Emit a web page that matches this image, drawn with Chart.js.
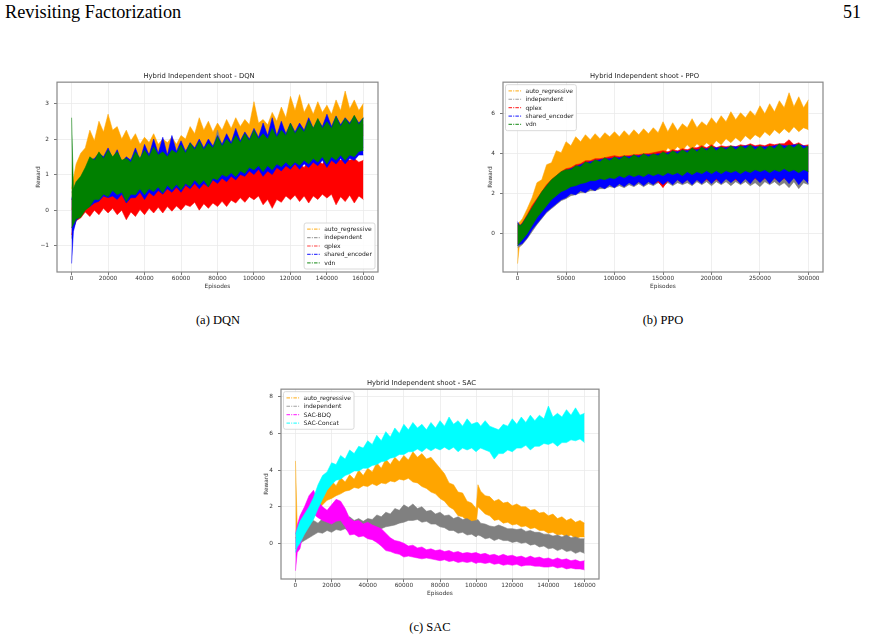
<!DOCTYPE html>
<html>
<head>
<meta charset="utf-8">
<script src="https://cdn.jsdelivr.net/npm/chart.js@4.4.0/dist/chart.umd.min.js"></script>
<style>
  html, body { margin: 0; padding: 0; background: #fff; }
  body { width: 869px; height: 643px; position: relative; overflow: hidden; font-family: "Liberation Serif", serif; color: #000; }
  .txt { position: absolute; white-space: nowrap; line-height: 1; }
  .cap { font-size: 12.5px; transform: translateX(-50%); }
  .plot { position: absolute; }
</style>
</head>
<body>
<div class="txt" style="left:5px; top:3px; font-size:18.3px;">Revisiting Factorization</div>
<div class="txt" style="right:8px; top:3px; font-size:18px;">51</div>

<div class="plot" style="left:20px; top:66px;"><canvas id="dqn" width="370" height="228"></canvas></div>
<div class="plot" style="left:466px; top:66px;"><canvas id="ppo" width="366" height="228"></canvas></div>
<div class="plot" style="left:244px; top:373px;"><canvas id="sac" width="366" height="228"></canvas></div>

<div class="txt cap" style="left:218px; top:314px;">(a) DQN</div>
<div class="txt cap" style="left:663px; top:314px;">(b) PPO</div>
<div class="txt cap" style="left:430px; top:621px;">(c) SAC</div>

<script>
// ---- DQN: low / high envelope of each noisy reward curve ----
const dqnEpisodes = [0, 1000, 2500, 5000, 7500,
    10000, 12500, 15000, 17500, 20000, 22500, 25000, 27500, 30000, 32500, 35000, 37500,
    40000, 42500, 45000, 47500, 50000, 52500, 55000, 57500, 60000, 62500, 65000, 67500,
    70000, 72500, 75000, 77500, 80000, 82500, 85000, 87500, 90000, 92500, 95000, 97500,
    100000, 102500, 105000, 107500, 110000, 112500, 115000, 117500, 120000, 122500, 125000, 127500,
    130000, 132500, 135000, 137500, 140000, 142500, 145000, 147500, 150000, 152500, 155000, 157500, 160000];
const dqnAutoHi = [0.6, 0.9, 1.3, 1.6, 1.75, 2.25, 1.95, 2.5, 2.2, 2.7, 2.25, 2.35, 2.0, 2.25, 1.95, 2.15, 1.85, 2.05, 1.9, 2.15, 1.85, 2.0, 1.9, 2.05, 1.85, 2.1, 2.0, 2.35, 2.15, 2.6, 2.25, 2.5, 2.2, 2.45, 2.25, 2.55, 2.3, 2.6, 2.35, 2.55, 2.4, 3.05, 2.45, 2.55, 2.4, 2.75, 2.5, 2.9, 2.6, 3.2, 2.8, 3.25, 2.75, 3.0, 2.7, 3.05, 2.75, 2.95, 2.7, 3.1, 2.8, 3.35, 2.85, 3.1, 2.8, 3.0];
const dqnAutoLo = [0.0, 0.2, 0.5, 0.8, 1.0, 1.2, 1.25, 1.3, 1.35, 1.4, 1.4, 1.35, 1.3, 1.2, 1.25, 1.3, 1.3, 1.35, 1.4, 1.4, 1.4, 1.35, 1.4, 1.4, 1.45, 1.45, 1.5, 1.5, 1.55, 1.55, 1.55, 1.55, 1.6, 1.6, 1.6, 1.65, 1.7, 1.7, 1.75, 1.75, 1.8, 1.8, 1.8, 1.8, 1.85, 1.85, 1.9, 1.9, 1.95, 1.95, 1.95, 1.95, 2.0, 2.0, 2.0, 2.0, 2.05, 2.05, 2.05, 2.05, 2.1, 2.1, 2.1, 2.1, 2.1, 2.1];
const dqnIndepHi = [0.5, 0.6, 0.8, 0.9, 1.1, 1.35, 1.4, 1.45, 1.5, 1.5, 1.5, 1.45, 1.4, 1.35, 1.45, 1.5, 1.5, 1.55, 1.6, 1.6, 1.55, 1.5, 1.55, 1.6, 1.6, 1.65, 1.7, 1.7, 1.75, 1.75, 1.75, 1.7, 1.7, 2.25, 1.8, 1.8, 1.85, 1.9, 1.95, 1.95, 2.0, 2.05, 2.0, 1.95, 2.0, 2.1, 2.05, 2.05, 2.1, 2.2, 2.2, 2.15, 2.2, 2.3, 2.3, 2.35, 2.3, 2.3, 2.35, 2.4, 2.4, 2.4, 2.4, 2.45, 2.4, 2.4];
const dqnIndepLo = [-0.8, -0.5, -0.3, -0.1, 0.05, 0.15, 0.25, 0.35, 0.4, 0.45, 0.45, 0.5, 0.4, 0.35, 0.4, 0.5, 0.5, 0.5, 0.55, 0.6, 0.55, 0.55, 0.6, 0.65, 0.65, 0.65, 0.7, 0.75, 0.75, 0.8, 0.75, 0.75, 0.8, 0.9, 0.95, 1.0, 1.0, 1.0, 1.05, 1.1, 1.1, 1.15, 1.15, 1.15, 1.2, 1.2, 1.25, 1.3, 1.3, 1.3, 1.3, 1.35, 1.35, 1.4, 1.4, 1.45, 1.45, 1.45, 1.45, 1.5, 1.5, 1.5, 1.55, 1.6, 1.65, 1.75];
const dqnQplexHi = [0.3, 0.3, 0.4, 0.5, 0.6, 0.55, 0.7, 0.6, 0.75, 0.75, 0.7, 0.8, 0.65, 0.7, 0.6, 0.75, 0.8, 0.8, 0.75, 0.85, 0.7, 0.8, 0.9, 0.95, 0.85, 0.95, 0.9, 1.0, 0.85, 0.95, 1.0, 1.05, 1.0, 1.1, 1.0, 1.15, 1.05, 1.2, 1.1, 1.2, 1.15, 1.3, 1.2, 1.25, 1.15, 1.3, 1.25, 1.35, 1.45, 1.35, 1.3, 1.3, 1.2, 1.4, 1.35, 1.4, 1.3, 1.45, 1.5, 1.5, 1.4, 1.45, 1.4, 1.45, 1.35, 1.4];
const dqnQplexLo = [-0.7, -0.5, -0.3, -0.22, -0.05, -0.18, 0.0, -0.13, 0.05, -0.08, 0.05, -0.13, 0.0, -0.27, -0.05, -0.18, 0.02, -0.13, 0.05, -0.08, 0.08, -0.08, 0.1, -0.03, 0.12, 0.0, 0.15, 0.1, 0.22, 0.0, 0.18, 0.05, 0.2, 0.1, 0.25, 0.1, 0.28, 0.2, 0.35, 0.22, 0.38, 0.29, 0.4, 0.15, 0.3, 0.05, 0.3, 0.22, 0.4, 0.29, 0.42, 0.24, 0.4, 0.2, 0.4, 0.3, 0.45, 0.34, 0.45, 0.15, 0.38, 0.24, 0.42, 0.2, 0.4, 0.3];
const dqnSharedHi = [0.3, 0.5, 0.7, 0.9, 1.15, 1.4, 1.45, 1.6, 1.5, 1.75, 1.45, 1.7, 1.35, 1.5, 1.4, 1.75, 1.4, 1.85, 1.55, 2.0, 1.6, 2.05, 1.55, 2.1, 1.65, 1.95, 1.65, 1.9, 1.75, 2.0, 1.75, 2.0, 1.8, 2.1, 1.85, 2.15, 1.9, 2.3, 1.95, 2.2, 2.0, 2.3, 2.05, 2.45, 2.1, 2.6, 2.1, 2.5, 2.15, 2.45, 2.2, 2.45, 2.25, 2.6, 2.3, 2.55, 2.35, 2.7, 2.35, 2.65, 2.4, 2.6, 2.45, 2.65, 2.45, 2.6];
const dqnSharedLo = [-1.5, -0.6, -0.3, -0.15, 0.05, 0.1, 0.2, 0.25, 0.4, 0.35, 0.4, 0.3, 0.45, 0.2, 0.35, 0.35, 0.5, 0.3, 0.5, 0.4, 0.55, 0.45, 0.6, 0.5, 0.65, 0.5, 0.7, 0.6, 0.75, 0.6, 0.75, 0.65, 0.85, 0.75, 0.9, 0.8, 0.95, 0.85, 1.0, 0.95, 1.1, 1.0, 1.15, 0.95, 1.1, 1.0, 1.2, 1.1, 1.25, 1.15, 1.3, 1.15, 1.3, 1.2, 1.35, 1.25, 1.4, 1.2, 1.4, 1.3, 1.45, 1.3, 1.45, 1.4, 1.55, 1.55];
const dqnVdnHi = [2.6, 0.6, 0.8, 0.95, 1.2, 1.5, 1.4, 1.64, 1.45, 1.69, 1.5, 1.64, 1.4, 1.46, 1.35, 1.64, 1.45, 1.69, 1.5, 1.78, 1.55, 1.64, 1.5, 1.69, 1.6, 1.83, 1.6, 1.88, 1.7, 1.93, 1.7, 1.88, 1.75, 2.07, 1.8, 2.0, 1.85, 2.1, 1.9, 2.15, 1.95, 2.25, 2.0, 2.15, 2.0, 2.3, 2.05, 2.25, 2.1, 2.44, 2.15, 2.35, 2.2, 2.53, 2.3, 2.58, 2.3, 2.49, 2.3, 2.63, 2.35, 2.58, 2.4, 2.67, 2.4, 2.6];
const dqnVdnLo = [-0.5, -0.4, -0.25, -0.2, 0.0, 0.1, 0.3, 0.29, 0.45, 0.38, 0.55, 0.43, 0.5, 0.24, 0.45, 0.43, 0.6, 0.43, 0.6, 0.52, 0.65, 0.48, 0.7, 0.57, 0.72, 0.57, 0.75, 0.66, 0.85, 0.71, 0.85, 0.66, 0.9, 0.85, 1.0, 0.94, 1.05, 0.94, 1.1, 1.03, 1.2, 1.13, 1.25, 1.08, 1.25, 1.13, 1.3, 1.22, 1.35, 1.22, 1.35, 1.26, 1.4, 1.3, 1.45, 1.35, 1.5, 1.3, 1.5, 1.4, 1.55, 1.4, 1.55, 1.5, 1.65, 1.68];
const dqnXTicks = [0, 20000, 40000, 60000, 80000, 100000, 120000, 140000, 160000];
const dqnYTicks = [-1, 0, 1, 2, 3];

// ---- PPO ----
const ppoEpisodes = [0, 2500,
    5000, 10000, 15000, 20000, 25000, 30000, 35000, 40000, 45000, 50000,
    55000, 60000, 65000, 70000, 75000, 80000, 85000, 90000, 95000, 100000,
    105000, 110000, 115000, 120000, 125000, 130000, 135000, 140000, 145000, 150000,
    155000, 160000, 165000, 170000, 175000, 180000, 185000, 190000, 195000, 200000,
    205000, 210000, 215000, 220000, 225000, 230000, 235000, 240000, 245000, 250000,
    255000, 260000, 265000, 270000, 275000, 280000, 285000, 290000, 295000, 300000];
const ppoAutoHi = [0.5, 0.6, 0.75, 1.25, 1.8, 2.55, 2.7, 3.45, 3.55, 4.15, 4.05, 4.6, 4.4, 4.85, 4.6, 4.95, 4.7, 5.0, 4.75, 5.05, 4.85, 5.1, 4.85, 5.15, 4.9, 5.2, 4.95, 5.25, 5.0, 5.3, 5.05, 5.6, 5.1, 5.55, 5.15, 5.5, 5.3, 5.75, 5.3, 5.6, 5.4, 5.8, 5.5, 5.9, 5.6, 6.1, 5.7, 6.05, 5.8, 6.15, 5.9, 6.4, 6.0, 6.5, 6.1, 6.65, 6.3, 7.05, 6.35, 6.85, 6.3, 6.7];
const ppoAutoLo = [-1.5, -0.3, 0.0, 0.5, 1.0, 1.5, 1.9, 2.2, 2.5, 2.8, 3.0, 3.1, 3.05, 3.15, 3.25, 3.35, 3.4, 3.45, 3.5, 3.55, 3.55, 3.6, 3.65, 3.65, 3.7, 3.7, 3.75, 3.75, 3.8, 3.8, 3.85, 3.9, 4.3, 4.1, 4.35, 4.15, 4.45, 4.2, 4.5, 4.3, 4.55, 4.35, 4.65, 4.45, 4.75, 4.55, 4.8, 4.6, 4.9, 4.7, 4.95, 4.8, 5.1, 4.9, 5.2, 5.0, 5.25, 5.05, 5.35, 5.1, 5.3, 5.2];
const ppoIndepHi = [0.4, 0.35, 0.45, 0.85, 1.25, 1.6, 2.0, 2.3, 2.6, 2.8, 3.0, 3.1, 3.2, 3.3, 3.4, 3.5, 3.55, 3.6, 3.65, 3.7, 3.7, 3.75, 3.75, 3.8, 3.8, 3.85, 3.85, 3.9, 3.9, 3.9, 3.95, 4.0, 4.0, 4.05, 4.05, 4.1, 4.1, 4.15, 4.15, 4.2, 4.2, 4.25, 4.2, 4.2, 4.25, 4.3, 4.3, 4.3, 4.3, 4.3, 4.3, 4.3, 4.3, 4.35, 4.35, 4.4, 4.35, 4.35, 4.4, 4.4, 4.35, 4.3];
const ppoIndepLo = [-0.7, -0.65, -0.55, -0.25, 0.1, 0.45, 0.75, 1.05, 1.25, 1.45, 1.65, 1.75, 1.9, 1.95, 2.05, 2.05, 2.15, 2.15, 2.25, 2.25, 2.35, 2.3, 2.4, 2.3, 2.45, 2.35, 2.5, 2.35, 2.5, 2.4, 2.55, 2.4, 2.55, 2.4, 2.55, 2.45, 2.55, 2.4, 2.6, 2.45, 2.6, 2.4, 2.6, 2.45, 2.6, 2.4, 2.6, 2.45, 2.6, 2.4, 2.55, 2.35, 2.6, 2.45, 2.6, 2.4, 2.55, 2.3, 2.6, 2.25, 2.55, 2.45];
const ppoQplexHi = [0.5, 0.4, 0.55, 0.95, 1.4, 1.75, 2.1, 2.45, 2.7, 2.9, 3.1, 3.25, 3.3, 3.45, 3.5, 3.65, 3.65, 3.75, 3.75, 3.8, 3.85, 3.9, 3.85, 3.9, 3.9, 3.95, 3.95, 4.0, 4.0, 4.05, 4.1, 4.15, 4.1, 4.2, 4.15, 4.25, 4.2, 4.3, 4.3, 4.4, 4.3, 4.45, 4.3, 4.4, 4.35, 4.4, 4.35, 4.45, 4.4, 4.5, 4.4, 4.45, 4.4, 4.5, 4.45, 4.5, 4.5, 4.7, 4.45, 4.55, 4.4, 4.45];
const ppoQplexLo = [-0.5, -0.4, -0.3, 0.0, 0.35, 0.7, 1.0, 1.3, 1.55, 1.75, 1.95, 2.05, 2.15, 2.2, 2.3, 2.3, 2.4, 2.4, 2.5, 2.45, 2.55, 2.5, 2.6, 2.5, 2.6, 2.5, 2.6, 2.55, 2.65, 2.5, 2.6, 2.3, 2.65, 2.55, 2.7, 2.55, 2.7, 2.6, 2.7, 2.6, 2.7, 2.6, 2.7, 2.6, 2.75, 2.65, 2.7, 2.6, 2.75, 2.65, 2.75, 2.65, 2.75, 2.7, 2.75, 2.65, 2.75, 2.65, 2.8, 2.65, 2.75, 2.65];
const ppoSharedHi = [0.6, 0.4, 0.5, 0.85, 1.25, 1.65, 2.0, 2.35, 2.6, 2.85, 3.0, 3.15, 3.25, 3.35, 3.45, 3.55, 3.6, 3.65, 3.7, 3.75, 3.75, 3.8, 3.8, 3.85, 3.85, 3.9, 3.9, 3.95, 3.95, 3.95, 4.0, 4.0, 4.05, 4.1, 4.1, 4.15, 4.15, 4.2, 4.2, 4.25, 4.25, 4.3, 4.3, 4.3, 4.3, 4.35, 4.35, 4.35, 4.4, 4.4, 4.35, 4.35, 4.35, 4.35, 4.4, 4.45, 4.4, 4.4, 4.45, 4.45, 4.4, 4.35];
const ppoSharedLo = [-0.6, -0.55, -0.5, -0.2, 0.2, 0.5, 0.8, 1.1, 1.3, 1.5, 1.7, 1.8, 2.0, 1.95, 2.15, 2.05, 2.25, 2.15, 2.35, 2.25, 2.45, 2.3, 2.5, 2.35, 2.55, 2.4, 2.6, 2.4, 2.6, 2.45, 2.65, 2.45, 2.65, 2.45, 2.7, 2.5, 2.7, 2.45, 2.7, 2.5, 2.75, 2.5, 2.75, 2.5, 2.75, 2.55, 2.75, 2.5, 2.75, 2.5, 2.8, 2.55, 2.8, 2.5, 2.8, 2.55, 2.8, 2.5, 2.8, 2.45, 2.75, 2.5];
const ppoVdnHi = [0.5, 0.4, 0.5, 0.9, 1.3, 1.7, 2.1, 2.4, 2.7, 2.9, 3.1, 3.2, 3.2, 3.4, 3.35, 3.6, 3.5, 3.7, 3.6, 3.8, 3.65, 3.85, 3.7, 3.9, 3.75, 3.95, 3.8, 4.0, 3.85, 4.0, 3.9, 4.1, 3.95, 4.15, 4.0, 4.2, 4.05, 4.3, 4.1, 4.35, 4.15, 4.4, 4.15, 4.35, 4.2, 4.4, 4.2, 4.4, 4.25, 4.45, 4.2, 4.4, 4.2, 4.4, 4.25, 4.5, 4.25, 4.45, 4.3, 4.5, 4.25, 4.4];
const ppoVdnLo = [-0.6, -0.45, -0.3, 0.0, 0.4, 0.8, 1.1, 1.4, 1.7, 1.9, 2.1, 2.2, 2.35, 2.4, 2.5, 2.55, 2.65, 2.65, 2.75, 2.7, 2.8, 2.75, 2.9, 2.8, 2.95, 2.85, 2.95, 2.85, 3.0, 2.9, 3.0, 2.9, 3.05, 2.95, 3.05, 2.9, 3.1, 2.95, 3.1, 3.0, 3.15, 3.0, 3.15, 3.0, 3.15, 3.05, 3.15, 3.0, 3.15, 3.05, 3.2, 3.1, 3.2, 3.05, 3.2, 3.1, 3.25, 3.1, 3.2, 3.05, 3.2, 3.1];
const ppoXTicks = [0, 50000, 100000, 150000, 200000, 250000, 300000];
const ppoYTicks = [0, 2, 4, 6];

// ---- SAC ----
const sacEpisodes = [0, 1000, 2500, 5000, 7500,
    10000, 12500, 15000, 17500, 20000, 22500, 25000, 27500, 30000, 32500, 35000, 37500,
    40000, 42500, 45000, 47500, 50000, 52500, 55000, 57500, 60000, 62500, 65000, 67500,
    70000, 72500, 75000, 77500, 80000, 82500, 85000, 87500, 90000, 92500, 95000, 97500,
    100000, 101000, 102500, 105000, 107500,
    110000, 112500, 115000, 117500, 120000, 122500, 125000, 127500, 130000, 132500, 135000, 137500,
    140000, 142500, 145000, 147500, 150000, 152500, 155000, 157500, 160000];
const sacAutoHi = [4.5, 0.8, 1.0, 1.3, 1.8, 2.3, 2.5, 3.1, 3.0, 3.4, 3.15, 3.6, 3.35, 3.75, 3.5, 4.0, 3.7, 4.1, 3.9, 4.4, 4.1, 4.6, 4.3, 4.7, 4.45, 4.8, 4.55, 5.0, 4.7, 4.9, 4.6, 4.7, 4.4, 4.1, 3.8, 3.3, 3.2, 2.8, 2.75, 2.3, 2.2, 1.9, 3.2, 2.85, 2.6, 2.55, 2.3, 2.4, 2.2, 2.25, 2.05, 2.15, 2.0, 2.0, 1.8, 1.85, 1.65, 1.7, 1.5, 1.6, 1.35, 1.45, 1.25, 1.35, 1.15, 1.25, 1.1];
const sacAutoLo = [0.3, 0.2, 0.4, 0.5, 0.9, 1.4, 1.85, 2.1, 2.35, 2.45, 2.6, 2.7, 2.85, 2.9, 3.05, 3.0, 3.15, 3.1, 3.25, 3.15, 3.3, 3.25, 3.4, 3.35, 3.5, 3.45, 3.55, 3.35, 3.3, 3.1, 3.0, 2.8, 2.7, 2.45, 2.3, 2.0, 1.85, 1.5, 1.45, 1.25, 1.15, 1.0, 2.0, 1.85, 1.6, 1.5, 1.25, 1.3, 1.1, 1.15, 1.0, 1.05, 0.9, 0.95, 0.8, 0.85, 0.7, 0.7, 0.55, 0.6, 0.45, 0.5, 0.35, 0.45, 0.25, 0.35, 0.35];
const sacIndepHi = [0.3, 0.4, 0.6, 0.9, 1.1, 1.25, 1.1, 1.35, 1.2, 1.45, 1.25, 1.5, 1.3, 1.45, 1.25, 1.35, 1.2, 1.35, 1.3, 1.55, 1.45, 1.7, 1.6, 1.9, 1.8, 2.1, 1.95, 2.15, 1.9, 2.0, 1.75, 1.8, 1.6, 1.7, 1.5, 1.55, 1.35, 1.45, 1.3, 1.35, 1.2, 1.25, 1.3, 1.1, 1.05, 0.95, 0.9, 1.0, 0.9, 0.8, 0.8, 0.75, 0.8, 0.65, 0.7, 0.6, 0.6, 0.5, 0.5, 0.4, 0.45, 0.35, 0.45, 0.3, 0.35, 0.25, 0.25];
const sacIndepLo = [-0.3, -0.2, 0.0, 0.15, 0.3, 0.45, 0.6, 0.55, 0.7, 0.6, 0.75, 0.7, 0.8, 0.6, 0.7, 0.55, 0.7, 0.55, 0.65, 0.7, 0.8, 0.9, 0.95, 1.0, 1.1, 1.15, 1.25, 1.25, 1.3, 1.15, 1.2, 1.05, 1.05, 0.9, 0.85, 0.7, 0.7, 0.55, 0.6, 0.45, 0.5, 0.35, 0.45, 0.4, 0.25, 0.3, 0.15, 0.25, 0.15, 0.15, 0.05, 0.1, 0.0, 0.05, -0.1, -0.05, -0.2, -0.15, -0.3, -0.25, -0.4, -0.3, -0.45, -0.4, -0.55, -0.45, -0.55];
const sacBdqHi = [0.5, 1.0, 1.5, 2.0, 2.6, 2.9, 2.3, 2.0, 1.8, 2.1, 2.4, 2.3, 1.9, 1.35, 1.2, 1.25, 1.05, 1.15, 1.0, 0.9, 0.8, 0.55, 0.3, 0.15, 0.1, 0.0, -0.15, -0.1, -0.25, -0.2, -0.35, -0.3, -0.4, -0.35, -0.45, -0.4, -0.5, -0.45, -0.55, -0.5, -0.55, -0.5, -0.55, -0.6, -0.55, -0.65, -0.6, -0.7, -0.6, -0.7, -0.65, -0.75, -0.7, -0.8, -0.7, -0.8, -0.75, -0.85, -0.8, -0.9, -0.8, -0.9, -0.85, -0.95, -0.9, -1.0, -0.95];
const sacBdqLo = [-1.5, -0.5, -0.3, 0.9, 1.35, 1.6, 1.4, 1.25, 1.15, 1.05, 1.2, 1.25, 0.9, 0.45, 0.5, 0.35, 0.4, 0.25, 0.2, 0.05, -0.15, -0.4, -0.45, -0.55, -0.6, -0.75, -0.7, -0.75, -0.8, -0.85, -0.8, -0.85, -0.9, -0.95, -0.9, -1.0, -0.95, -1.05, -1.0, -1.05, -1.0, -1.1, -1.05, -1.05, -1.1, -1.05, -1.15, -1.1, -1.2, -1.15, -1.2, -1.15, -1.25, -1.2, -1.2, -1.25, -1.25, -1.3, -1.3, -1.25, -1.35, -1.3, -1.4, -1.35, -1.4, -1.4, -1.45];
const sacConcatHi = [0.5, 0.8, 1.2, 1.6, 2.0, 2.5, 3.2, 3.7, 3.9, 4.4, 4.3, 4.8, 4.6, 5.1, 4.9, 5.3, 5.2, 5.6, 5.4, 5.9, 5.6, 6.1, 5.8, 6.3, 6.0, 6.5, 6.2, 6.6, 6.3, 6.5, 6.2, 6.6, 6.3, 6.7, 6.4, 6.9, 6.5, 6.7, 6.4, 6.8, 6.5, 6.6, 6.6, 6.4, 6.7, 6.4, 6.3, 6.2, 6.5, 6.4, 6.8, 6.5, 6.9, 6.6, 7.0, 6.7, 7.0, 6.8, 7.5, 6.9, 7.1, 6.9, 7.3, 7.0, 7.4, 7.0, 7.1];
const sacConcatLo = [-0.5, -0.2, 0.0, 0.5, 0.9, 1.3, 1.9, 2.4, 2.9, 3.2, 3.45, 3.5, 3.7, 3.8, 3.95, 3.95, 4.1, 4.1, 4.25, 4.3, 4.45, 4.5, 4.65, 4.7, 4.85, 4.85, 5.0, 5.0, 5.15, 5.0, 5.2, 5.05, 5.2, 5.1, 5.25, 5.1, 5.25, 5.0, 5.2, 5.1, 5.2, 5.0, 5.1, 5.2, 5.1, 5.0, 4.6, 4.9, 4.9, 5.1, 5.0, 5.2, 5.2, 5.35, 5.1, 5.3, 5.3, 5.45, 5.4, 5.5, 5.3, 5.5, 5.5, 5.65, 5.6, 5.7, 5.5];
const sacXTicks = [0, 20000, 40000, 60000, 80000, 100000, 120000, 140000, 160000];
const sacYTicks = [0, 2, 4, 6, 8];

const COLORS = {
    orange: [255, 165, 0], gray: [128, 128, 128], red: [255, 0, 0], blue: [0, 0, 255],
    green: [0, 128, 0], magenta: [255, 0, 255], cyan: [0, 255, 255]
};
const rgba = (c, a) => `rgba(${c[0]}, ${c[1]}, ${c[2]}, ${a})`;
const FONT = '"DejaVu Sans", sans-serif';

// frame (all four spines) + matplotlib style legend box
const frameLegend = {
    id: 'frameLegend',
    afterDraw(chart, args, opts) {
        const ctx = chart.ctx;
        const a = chart.chartArea;
        ctx.save();
        ctx.font = `6px ${FONT}`;
        const items = opts.items;
        const textW = Math.max(...items.map(it => ctx.measureText(it.label).width));
        const rowH = 8.4;
        const w = 20 + textW + 3;
        const h = items.length * rowH + 4;
        let bx, by;
        if (opts.corner === 'lower right') {
            bx = a.right - 3 - w; by = a.bottom - 3 - h;
        } else {
            bx = a.left + 2.5; by = a.top + 2.5;
        }
        ctx.beginPath();
        ctx.roundRect(bx, by, w, h, 2);
        ctx.fillStyle = 'rgba(255,255,255,0.85)';
        ctx.fill();
        ctx.strokeStyle = '#d0d0d0';
        ctx.lineWidth = 0.8;
        ctx.stroke();
        items.forEach((it, i) => {
            const cy = by + 2 + rowH * (i + 0.5);
            ctx.strokeStyle = rgba(it.color, 0.75);
            ctx.lineWidth = 1.2;
            ctx.setLineDash([3.5, 1.2, 1, 1.2]);
            ctx.beginPath();
            ctx.moveTo(bx + 3, cy);
            ctx.lineTo(bx + 16, cy);
            ctx.stroke();
            ctx.setLineDash([]);
            ctx.fillStyle = '#222';
            ctx.textBaseline = 'middle';
            ctx.fillText(it.label, bx + 20, cy + 0.3);
        });
        ctx.strokeStyle = '#888';
        ctx.lineWidth = 1.2;
        ctx.strokeRect(a.left, a.top, a.width, a.height);
        ctx.restore();
    }
};

function makeChart(id, cfg) {
    const datasets = [];
    // dataset 0 is painted last in Chart.js, so the last series goes first
    cfg.series.slice().reverse().forEach(s => {
        datasets.push({
            label: s.label + ' low',
            data: cfg.episodes.map((e, i) => ({ x: e, y: s.lo[i] })),
            borderColor: rgba(s.color, 0.55),
            borderWidth: 1,
            pointRadius: 0,
            fill: false
        });
        datasets.push({
            label: s.label,
            data: cfg.episodes.map((e, i) => ({ x: e, y: s.hi[i] })),
            borderColor: rgba(s.color, 0.55),
            backgroundColor: rgba(s.color, 1),
            borderWidth: 1,
            pointRadius: 0,
            fill: '-1'
        });
    });

    const tickFont = { family: FONT, size: 5.8 };
    return new Chart(document.getElementById(id), {
        type: 'line',
        data: { datasets: datasets },
        options: {
            responsive: false,
            animation: false,
            devicePixelRatio: 1,
            events: [],
            layout: { padding: { left: 0, right: cfg.padRight, top: 0, bottom: 0 } },
            plugins: {
                legend: { display: false },
                tooltip: { enabled: false },
                title: {
                    display: true,
                    text: cfg.title,
                    color: '#222',
                    font: { family: FONT, size: 6.8, weight: 'normal' },
                    padding: { top: 6, bottom: 2 }
                },
                frameLegend: { items: cfg.series, corner: cfg.legendCorner }
            },
            scales: {
                x: {
                    type: 'linear',
                    min: cfg.xMin,
                    max: cfg.xMax,
                    afterBuildTicks: s => { s.ticks = cfg.xTicks.map(v => ({ value: v })); },
                    afterFit: s => { s.height = 22; },
                    ticks: {
                        autoSkip: false, maxRotation: 0, padding: 0.5,
                        color: '#333', font: tickFont,
                        callback: v => String(v)
                    },
                    grid: { color: '#ebebeb', lineWidth: 0.8, tickLength: 3, tickColor: '#555' },
                    border: { display: false },
                    title: {
                        display: true, text: 'Episodes', color: '#333', font: tickFont,
                        padding: { top: 0, bottom: 3.8 }
                    }
                },
                y: {
                    type: 'linear',
                    min: cfg.yMin,
                    max: cfg.yMax,
                    afterBuildTicks: s => { s.ticks = cfg.yTicks.map(v => ({ value: v })); },
                    afterFit: s => { s.width = 37; },
                    ticks: {
                        padding: 5, color: '#333', font: tickFont,
                        callback: v => (v < 0 ? '\u2212' + Math.abs(v) : String(v))
                    },
                    grid: { color: '#ebebeb', lineWidth: 0.8, tickLength: 3, tickColor: '#555' },
                    border: { display: false },
                    title: {
                        display: true, text: 'Reward', color: '#333', font: tickFont,
                        padding: { top: cfg.yTitlePad, bottom: 0 }
                    }
                }
            }
        },
        plugins: [frameLegend]
    });
}

makeChart('dqn', {
    title: 'Hybrid Independent shoot - DQN',
    episodes: dqnEpisodes,
    xMin: -8000, xMax: 168000, yMin: -1.74, yMax: 3.6,
    xTicks: dqnXTicks, yTicks: dqnYTicks,
    padRight: 12, yTitlePad: 15,
    legendCorner: 'lower right',
    series: [
        { label: 'auto_regressive', color: COLORS.orange, lo: dqnAutoLo, hi: dqnAutoHi },
        { label: 'independent', color: COLORS.gray, lo: dqnIndepLo, hi: dqnIndepHi },
        { label: 'qplex', color: COLORS.red, lo: dqnQplexLo, hi: dqnQplexHi },
        { label: 'shared_encoder', color: COLORS.blue, lo: dqnSharedLo, hi: dqnSharedHi },
        { label: 'vdn', color: COLORS.green, lo: dqnVdnLo, hi: dqnVdnHi }
    ]
});

makeChart('ppo', {
    title: 'Hybrid Independent shoot - PPO',
    episodes: ppoEpisodes,
    xMin: -15000, xMax: 315000, yMin: -1.92, yMax: 7.58,
    xTicks: ppoXTicks, yTicks: ppoYTicks,
    padRight: 9, yTitlePad: 21,
    legendCorner: 'upper left',
    series: [
        { label: 'auto_regressive', color: COLORS.orange, lo: ppoAutoLo, hi: ppoAutoHi },
        { label: 'independent', color: COLORS.gray, lo: ppoIndepLo, hi: ppoIndepHi },
        { label: 'qplex', color: COLORS.red, lo: ppoQplexLo, hi: ppoQplexHi },
        { label: 'shared_encoder', color: COLORS.blue, lo: ppoSharedLo, hi: ppoSharedHi },
        { label: 'vdn', color: COLORS.green, lo: ppoVdnLo, hi: ppoVdnHi }
    ]
});

makeChart('sac', {
    title: 'Hybrid Independent shoot - SAC',
    episodes: sacEpisodes,
    xMin: -8000, xMax: 168000, yMin: -1.95, yMax: 8.42,
    xTicks: sacXTicks, yTicks: sacYTicks,
    padRight: 11, yTitlePad: 19.5,
    legendCorner: 'upper left',
    series: [
        { label: 'auto_regressive', color: COLORS.orange, lo: sacAutoLo, hi: sacAutoHi },
        { label: 'independent', color: COLORS.gray, lo: sacIndepLo, hi: sacIndepHi },
        { label: 'SAC-BDQ', color: COLORS.magenta, lo: sacBdqLo, hi: sacBdqHi },
        { label: 'SAC-Concat', color: COLORS.cyan, lo: sacConcatLo, hi: sacConcatHi }
    ]
});
</script>
</body>
</html>
